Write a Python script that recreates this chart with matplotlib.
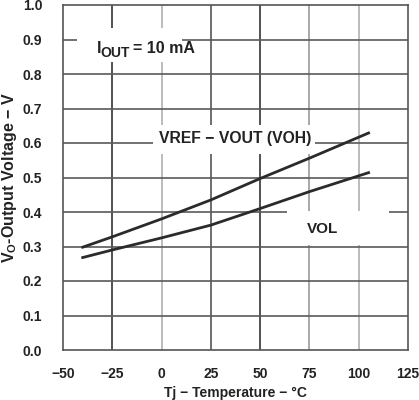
import matplotlib
matplotlib.use("Agg")
import matplotlib.pyplot as plt
from matplotlib.patches import Rectangle

plt.rcParams['font.family'] = ['Liberation Sans', 'DejaVu Sans']
plt.rcParams['font.weight'] = 'bold'
plt.rcParams['mathtext.fontset'] = 'custom'
plt.rcParams['mathtext.bf'] = 'Liberation Sans:bold'
plt.rcParams['mathtext.rm'] = 'Liberation Sans:bold'
plt.rcParams['mathtext.it'] = 'Liberation Sans:bold'

temp_voh = [-40, -25, 0, 25, 50, 75, 105]
voh = [0.298, 0.328, 0.380, 0.435, 0.497, 0.556, 0.629]
temp_vol = [-40, -25, 0, 25, 50, 75, 105]
vol = [0.268, 0.290, 0.325, 0.362, 0.410, 0.459, 0.514]
xticks = [-50, -25, 0, 25, 50, 75, 100, 125]
yticks = [0.0, 0.1, 0.2, 0.3, 0.4, 0.5, 0.6, 0.7, 0.8, 0.9, 1.0]

fig = plt.figure(figsize=(4.19, 4.0), dpi=100)
ax = fig.add_axes([63/419, 50/400, 345/419, 345/400])
ax.set_xlim(-50, 125)
ax.set_ylim(0, 1.0)
ax.set_xticks(xticks)
ax.set_yticks(yticks)
ax.set_xticklabels([str(t).replace('-', '\u2212') for t in xticks], fontsize=10, fontweight='bold', color='#222222')
ax.set_yticklabels([f"{t:.1f}" for t in yticks], fontsize=10, fontweight='bold', color='#222222')
ax.tick_params(axis='x', length=0, pad=12)
ax.tick_params(axis='y', length=0, pad=15)

vcolors = ['#333333', '#b0b0b0', '#555555', '#333333', '#999999', '#b0b0b0']
for t, c in zip(xticks[1:-1], vcolors):
    ax.axvline(t, color=c, lw=1.2, zorder=1)
for t in yticks[1:-1]:
    ax.axhline(t, color='#5a5a5a', lw=1.2, zorder=1)
for s in ax.spines.values():
    s.set_color('#555555')
    s.set_linewidth(1.2)

ax.plot(temp_voh, voh, color='#2b2b2b', lw=2.0, zorder=3)
ax.plot(temp_vol, vol, color='#2b2b2b', lw=2.0, zorder=3)

# white label boxes (axes fraction)
for (x0, y0, x1, y1) in [(0.041, 0.835, 0.345, 0.933),
                         (0.261, 0.568, 0.730, 0.652),
                         (0.649, 0.304, 0.945, 0.403)]:
    ax.add_patch(Rectangle((x0, y0), x1 - x0, y1 - y0, transform=ax.transAxes,
                           facecolor='white', edgecolor='none', zorder=2))

tkw = dict(fontweight='bold', ha='left', va='baseline', color='#222222', zorder=4)
ax.text(-32.8, 0.861, 'I', fontsize=11.5, **tkw)
ax.text(-31.0, 0.849, 'OUT', fontsize=10, **tkw)
ax.text(-14.5, 0.861, '= 10 mA', fontsize=11.5, **tkw)
ax.text(37.3, 0.614, 'VREF \u2212 VOUT (VOH)', fontsize=11.3, fontweight='bold',
        ha='center', va='center', color='#222222', zorder=4)
ax.text(81.7, 0.352, 'VOL', fontsize=11, fontweight='bold',
        ha='center', va='center', color='#222222', zorder=4)

ax.set_xlabel('Tj \u2212 Temperature \u2212 \u00b0C', fontsize=10, fontweight='bold', labelpad=3.5, color='#222222')
ax.set_ylabel('V$_\\mathbf{O}$-Output Voltage \u2212 V', fontsize=11.5, fontweight='bold', labelpad=3, color='#222222')

fig.savefig('out.png', dpi=100)
